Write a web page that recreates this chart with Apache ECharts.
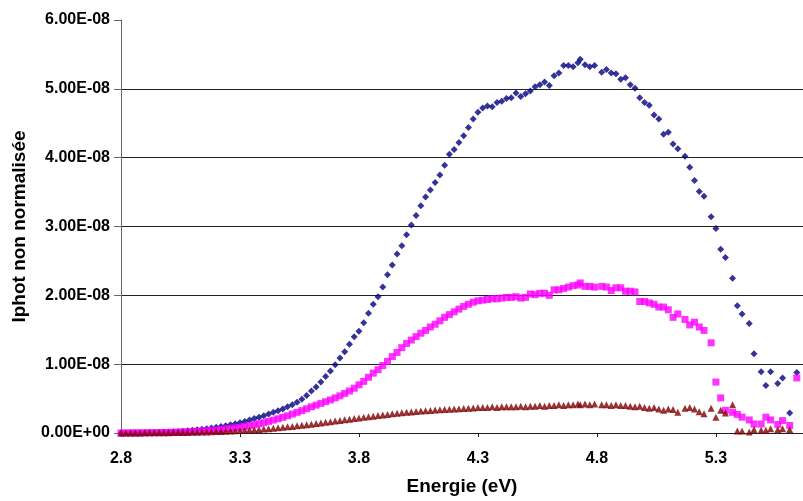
<!DOCTYPE html>
<html>
<head>
<meta charset="utf-8">
<script src="https://cdn.jsdelivr.net/npm/echarts@6/dist/echarts.min.js"></script>
<style>
html,body{margin:0;padding:0;background:#fff;}
#chart{width:803px;height:501px;}
</style>
</head>
<body>
<div id="chart"></div>
<script>
// Photon energies (eV)
const energies = [
2.80,2.82,2.84,2.86,2.88,2.90,2.92,2.94,2.96,2.98,
3.00,3.02,3.04,3.06,3.08,3.10,3.12,3.14,3.16,3.18,
3.20,3.22,3.24,3.26,3.28,3.30,3.32,3.34,3.36,3.38,
3.40,3.42,3.44,3.46,3.48,3.50,3.52,3.54,3.56,3.58,
3.60,3.62,3.64,3.66,3.68,3.70,3.72,3.74,3.76,3.78,
3.80,3.82,3.84,3.86,3.88,3.90,3.92,3.94,3.96,3.98,
4.00,4.02,4.04,4.06,4.08,4.10,4.12,4.14,4.16,4.18,
4.20,4.22,4.24,4.26,4.28,
4.30,4.32,4.34,4.36,4.38,4.40,4.42,4.44,4.46,4.48,
4.50,4.52,4.54,4.56,4.58,4.60,4.62,4.64,4.66,4.68,
4.70,4.72,4.73,4.75,4.77,4.79,4.82,4.84,4.86,4.88,
4.90,4.92,4.94,4.96,4.98,5.00,5.02,5.04,5.06,5.08,
5.10,5.12,5.14,5.17,5.19,5.21,5.23,5.25,5.28,5.30,
5.32,5.34,5.37,5.39,5.41,5.44,5.46,5.49,5.51,5.53,
5.56,5.58,5.61,5.64
];
// Iphot values in units of 1E-08
const seriesBlue = [
0.000,0.001,0.002,0.003,0.004,0.005,0.006,0.008,0.010,0.012,
0.015,0.018,0.022,0.027,0.033,0.040,0.047,0.055,0.063,0.072,
0.082,0.094,0.107,0.120,0.135,0.150,0.168,0.188,0.21,0.23,
0.25,0.275,0.30,0.325,0.35,0.38,0.41,0.445,0.49,0.545,
0.61,0.67,0.74,0.82,0.90,0.99,1.09,1.18,1.29,1.40,
1.48,1.60,1.74,1.87,1.98,2.12,2.30,2.44,2.60,2.72,
2.88,3.02,3.16,3.30,3.43,3.53,3.64,3.75,3.89,4.05,
4.12,4.22,4.32,4.44,4.56,
4.66,4.72,4.75,4.74,4.80,4.82,4.86,4.87,4.94,4.89,
4.93,4.97,5.03,5.06,5.10,5.05,5.19,5.23,5.34,5.34,
5.32,5.38,5.43,5.35,5.32,5.34,5.24,5.28,5.23,5.22,
5.14,5.16,5.06,5.01,4.87,4.80,4.76,4.62,4.56,4.34,
4.37,4.20,4.13,4.02,3.86,3.67,3.51,3.44,3.14,2.97,
2.67,2.55,2.25,1.85,1.73,1.59,1.15,0.89,0.69,0.89,
0.72,0.80,0.29,0.88
];
const seriesPink = [
0.000,0.001,0.001,0.002,0.002,0.003,0.004,0.005,0.006,0.007,
0.008,0.010,0.012,0.014,0.017,0.020,0.024,0.029,0.034,0.039,
0.045,0.052,0.060,0.068,0.076,0.085,0.096,0.108,0.121,0.135,
0.150,0.168,0.187,0.207,0.228,0.25,0.275,0.30,0.325,0.352,
0.38,0.405,0.43,0.455,0.48,0.51,0.54,0.575,0.61,0.65,
0.70,0.75,0.81,0.87,0.92,0.98,1.04,1.11,1.17,1.24,
1.30,1.35,1.40,1.45,1.49,1.54,1.58,1.63,1.68,1.72,
1.76,1.80,1.84,1.87,1.90,
1.92,1.93,1.94,1.95,1.95,1.96,1.97,1.97,1.98,1.96,
1.97,2.02,2.01,2.03,2.03,2.00,2.08,2.08,2.10,2.12,
2.14,2.15,2.18,2.13,2.13,2.12,2.13,2.12,2.07,2.11,
2.11,2.06,2.06,2.05,1.91,1.91,1.89,1.87,1.83,1.83,
1.79,1.68,1.73,1.65,1.57,1.61,1.54,1.49,1.31,0.74,
0.51,0.33,0.30,0.27,0.23,0.19,0.13,0.13,0.23,0.19,
0.125,0.18,0.11,0.80
];
const seriesRed = [
0.000,0.000,0.001,0.001,0.001,0.002,0.002,0.003,0.003,0.004,
0.005,0.006,0.007,0.008,0.009,0.010,0.012,0.014,0.016,0.018,
0.020,0.023,0.026,0.029,0.032,0.035,0.039,0.043,0.047,0.052,
0.057,0.063,0.069,0.075,0.082,0.089,0.096,0.104,0.112,0.120,
0.128,0.137,0.146,0.155,0.164,0.173,0.182,0.191,0.200,0.209,
0.218,0.227,0.236,0.245,0.254,0.262,0.270,0.278,0.286,0.293,
0.300,0.306,0.312,0.318,0.323,0.328,0.333,0.337,0.341,0.345,
0.349,0.353,0.357,0.361,0.365,
0.37,0.37,0.37,0.38,0.37,0.38,0.38,0.38,0.38,0.39,
0.38,0.39,0.39,0.40,0.39,0.40,0.40,0.41,0.40,0.41,
0.41,0.42,0.41,0.42,0.41,0.42,0.41,0.41,0.40,0.41,
0.40,0.40,0.39,0.38,0.39,0.37,0.36,0.37,0.35,0.33,
0.35,0.34,0.30,0.36,0.37,0.35,0.31,0.28,0.36,0.23,
0.33,0.29,0.41,0.03,0.03,0.015,0.05,0.04,0.04,0.06,
0.05,0.06,0.05,null
];
const yTickLabels = ['0.00E+00','1.00E-08','2.00E-08','3.00E-08','4.00E-08','5.00E-08','6.00E-08'];
const xTickLabels = ['2.8','3.3','3.8','4.3','4.8','5.3'];

function pairs(vals){
  const out = [];
  for (let i = 0; i < energies.length; i++) {
    if (vals[i] !== null && vals[i] !== undefined) out.push([energies[i], vals[i]]);
  }
  return out;
}

const FONT = '"Liberation Sans", Arial, sans-serif';
const chart = echarts.init(document.getElementById('chart'), null, {renderer:'canvas'});
chart.setOption({
  animation: false,
  backgroundColor: '#ffffff',
  grid: {left: 121, top: 20, right: 0, bottom: 65, containLabel: false},
  xAxis: {
    type: 'value', min: 2.8, max: 5.666, interval: 0.5,
    name: 'Energie (eV)', nameLocation: 'middle', nameGap: 44,
    nameTextStyle: {fontFamily: FONT, fontWeight: 'bold', fontSize: 19, color: '#000'},
    axisLine: {show: true, onZero: false, lineStyle: {color: '#222', width: 1}},
    axisTick: {show: true, length: 4, lineStyle: {color: '#222'}},
    axisLabel: {
      showMaxLabel: false, margin: 18,
      fontFamily: FONT, fontWeight: 'bold', fontSize: 16, color: '#000',
      formatter: function(v){ const i = Math.round((v - 2.8) / 0.5); return (Math.abs(v - (2.8 + i*0.5)) < 1e-6 && xTickLabels[i]) ? xTickLabels[i] : ''; }
    },
    splitLine: {show: false}
  },
  yAxis: {
    type: 'value', min: 0, max: 6, interval: 1,
    name: 'Iphot non normalisée', nameLocation: 'middle', nameGap: 92, nameRotate: 90,
    nameTextStyle: {fontFamily: FONT, fontWeight: 'bold', fontSize: 19, color: '#000'},
    axisLine: {show: true, lineStyle: {color: '#666', width: 1}},
    axisTick: {show: true, length: 7, lineStyle: {color: '#666'}},
    axisLabel: {
      margin: 11, fontFamily: FONT, fontWeight: 'bold', fontSize: 16, color: '#000',
      formatter: function(v){ return yTickLabels[Math.round(v)]; }
    },
    splitLine: {show: true, lineStyle: {color: ['#222','#222','#222','#222','#222','#222','rgba(0,0,0,0)'], width: 1}}
  },
  series: [
    {type: 'scatter', name: 'S1', data: pairs(seriesBlue), symbol: 'diamond', symbolSize: 7,
     itemStyle: {color: '#000080'}},
    {type: 'scatter', name: 'S2', data: pairs(seriesPink), symbol: 'rect', symbolSize: 7,
     itemStyle: {color: '#FF00FF'}},
    {type: 'scatter', name: 'S3', data: pairs(seriesRed), symbol: 'triangle', symbolSize: 7,
     itemStyle: {color: '#800000'}}
  ]
});
</script>
</body>
</html>
